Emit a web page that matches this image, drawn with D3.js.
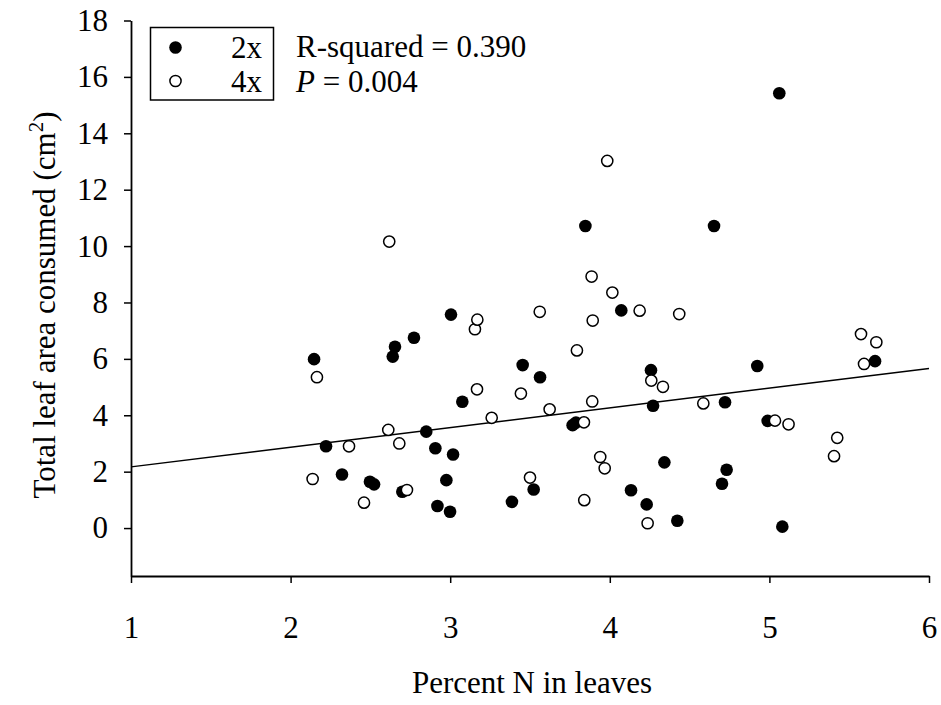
<!DOCTYPE html>
<html><head><meta charset="utf-8">
<script src="https://cdn.jsdelivr.net/npm/d3@7"></script>
<style>body{margin:0;background:#fff}</style>
</head><body>
<svg id="c" width="941" height="705"></svg>
<script>
// 2x (filled)
const x2 = [2.147,2.222,2.322,2.497,2.523,2.640,2.654,2.700,2.773,2.850,2.907,2.920,2.976,2.999,3.005,3.018,3.076,3.387,3.454,3.523,3.563,3.767,3.788,3.847,4.072,4.133,4.231,4.258,4.271,4.342,4.423,4.653,4.703,4.722,4.732,4.924,4.989,5.062,5.081,5.662];
const y2 = [5.99,2.90,1.90,1.64,1.55,6.08,6.43,1.29,6.75,3.42,2.83,0.78,1.70,0.58,7.57,2.61,4.48,0.93,5.78,1.37,5.35,3.65,3.74,10.71,7.72,1.34,0.84,5.60,4.34,2.33,0.26,10.71,1.57,4.46,2.07,5.75,3.80,15.42,0.05,5.92];
// 4x (open)
const x4 = [2.138,2.165,2.366,2.460,2.612,2.618,2.681,2.729,3.155,3.170,3.168,3.260,3.443,3.500,3.561,3.623,3.794,3.838,3.840,3.886,3.893,3.890,3.940,3.968,3.984,4.016,4.187,4.237,4.260,4.333,4.435,4.586,5.035,5.120,5.405,5.425,5.574,5.593,5.670];
const y4 = [1.74,5.35,2.90,0.90,3.48,10.16,3.00,1.35,7.05,7.39,4.92,3.91,4.77,1.79,7.67,4.21,6.30,3.75,0.99,8.92,7.36,4.49,2.52,2.12,13.02,8.35,7.71,0.17,5.23,5.01,7.59,4.42,3.81,3.68,2.55,3.20,6.88,5.82,6.59];
const xTicks = [1,2,3,4,5,6];
const yTicks = [0,2,4,6,8,10,12,14,16,18];
const regIntercept = 1.472, regSlope = 0.698;
const legendLabels = ["2x","4x"];

const font = "'Liberation Serif','Times New Roman',serif";
const FS = "31px";
const svg = d3.select("#c");
const x = d3.scaleLinear().domain([1,6]).range([131,929]);
const y = d3.scaleLinear().domain([-1.7,18]).range([576,20.5]);

const xa = svg.append("g").attr("transform","translate(0,576)")
  .call(d3.axisBottom(x).tickValues(xTicks).tickSize(7).tickSizeOuter(0).tickFormat(d3.format("d")));
xa.selectAll(".tick text").attr("y",62).attr("dy",null);
const ya = svg.append("g").attr("transform","translate(131,0)")
  .call(d3.axisLeft(y).tickValues(yTicks).tickSize(7).tickSizeOuter(0).tickPadding(16).tickFormat(d3.format("d")));
[xa,ya].forEach(a=>{
  a.select(".domain").attr("stroke","#000").attr("stroke-width",1.8);
  a.selectAll(".tick line").attr("stroke","#000").attr("stroke-width",1.5);
  a.selectAll(".tick text").attr("fill","#000").style("font-family",font).style("font-size",FS);
});

// regression line
svg.append("line")
  .attr("x1",x(1)).attr("x2",x(6))
  .attr("y1",y(regIntercept+regSlope*1)).attr("y2",y(regIntercept+regSlope*6))
  .attr("stroke","#000").attr("stroke-width",1.5);

const d2 = x2.map((v,i)=>[v,y2[i]]);
const d4 = x4.map((v,i)=>[v,y4[i]]);
svg.append("g").selectAll("circle").data(d2).join("circle")
  .attr("cx",d=>x(d[0])).attr("cy",d=>y(d[1])).attr("r",6.3).attr("fill","#000");
svg.append("g").selectAll("circle").data(d4).join("circle")
  .attr("cx",d=>x(d[0])).attr("cy",d=>y(d[1])).attr("r",5.6)
  .attr("fill","#fff").attr("stroke","#000").attr("stroke-width",1.5);

// legend
svg.append("rect").attr("x",150.5).attr("y",27.5).attr("width",123).attr("height",72.5)
  .attr("fill","#fff").attr("stroke","#000").attr("stroke-width",1.5);
svg.append("circle").attr("cx",175.5).attr("cy",47.5).attr("r",6.3).attr("fill","#000");
svg.append("circle").attr("cx",175.5).attr("cy",81).attr("r",5.6).attr("fill","#fff").attr("stroke","#000").attr("stroke-width",1.5);
svg.selectAll(".lg").data(legendLabels).join("text")
  .attr("x",262).attr("y",(d,i)=>58+i*34).attr("text-anchor","end").attr("fill","#000")
  .style("font-family",font).style("font-size",FS).text(d=>d);

svg.append("text").attr("x",296).attr("y",57).attr("fill","#000").style("font-family",font).style("font-size",FS)
  .text("R-squared = 0.390");
const pt = svg.append("text").attr("x",296).attr("y",92).attr("fill","#000").style("font-family",font).style("font-size",FS);
pt.append("tspan").style("font-style","italic").text("P");
pt.append("tspan").text(" = 0.004");

// axis titles
svg.append("text").attr("x",532).attr("y",693).attr("text-anchor","middle").attr("fill","#000")
  .style("font-family",font).style("font-size",FS).text("Percent N in leaves");
const yt = svg.append("text").attr("transform","translate(55,305) rotate(-90)").attr("text-anchor","middle").attr("fill","#000")
  .style("font-family",font).style("font-size",FS);
yt.append("tspan").text("Total leaf area consumed (cm");
yt.append("tspan").attr("dy",-12).style("font-size","21px").text("2");
yt.append("tspan").attr("dy",12).text(")");
</script>
</body></html>
